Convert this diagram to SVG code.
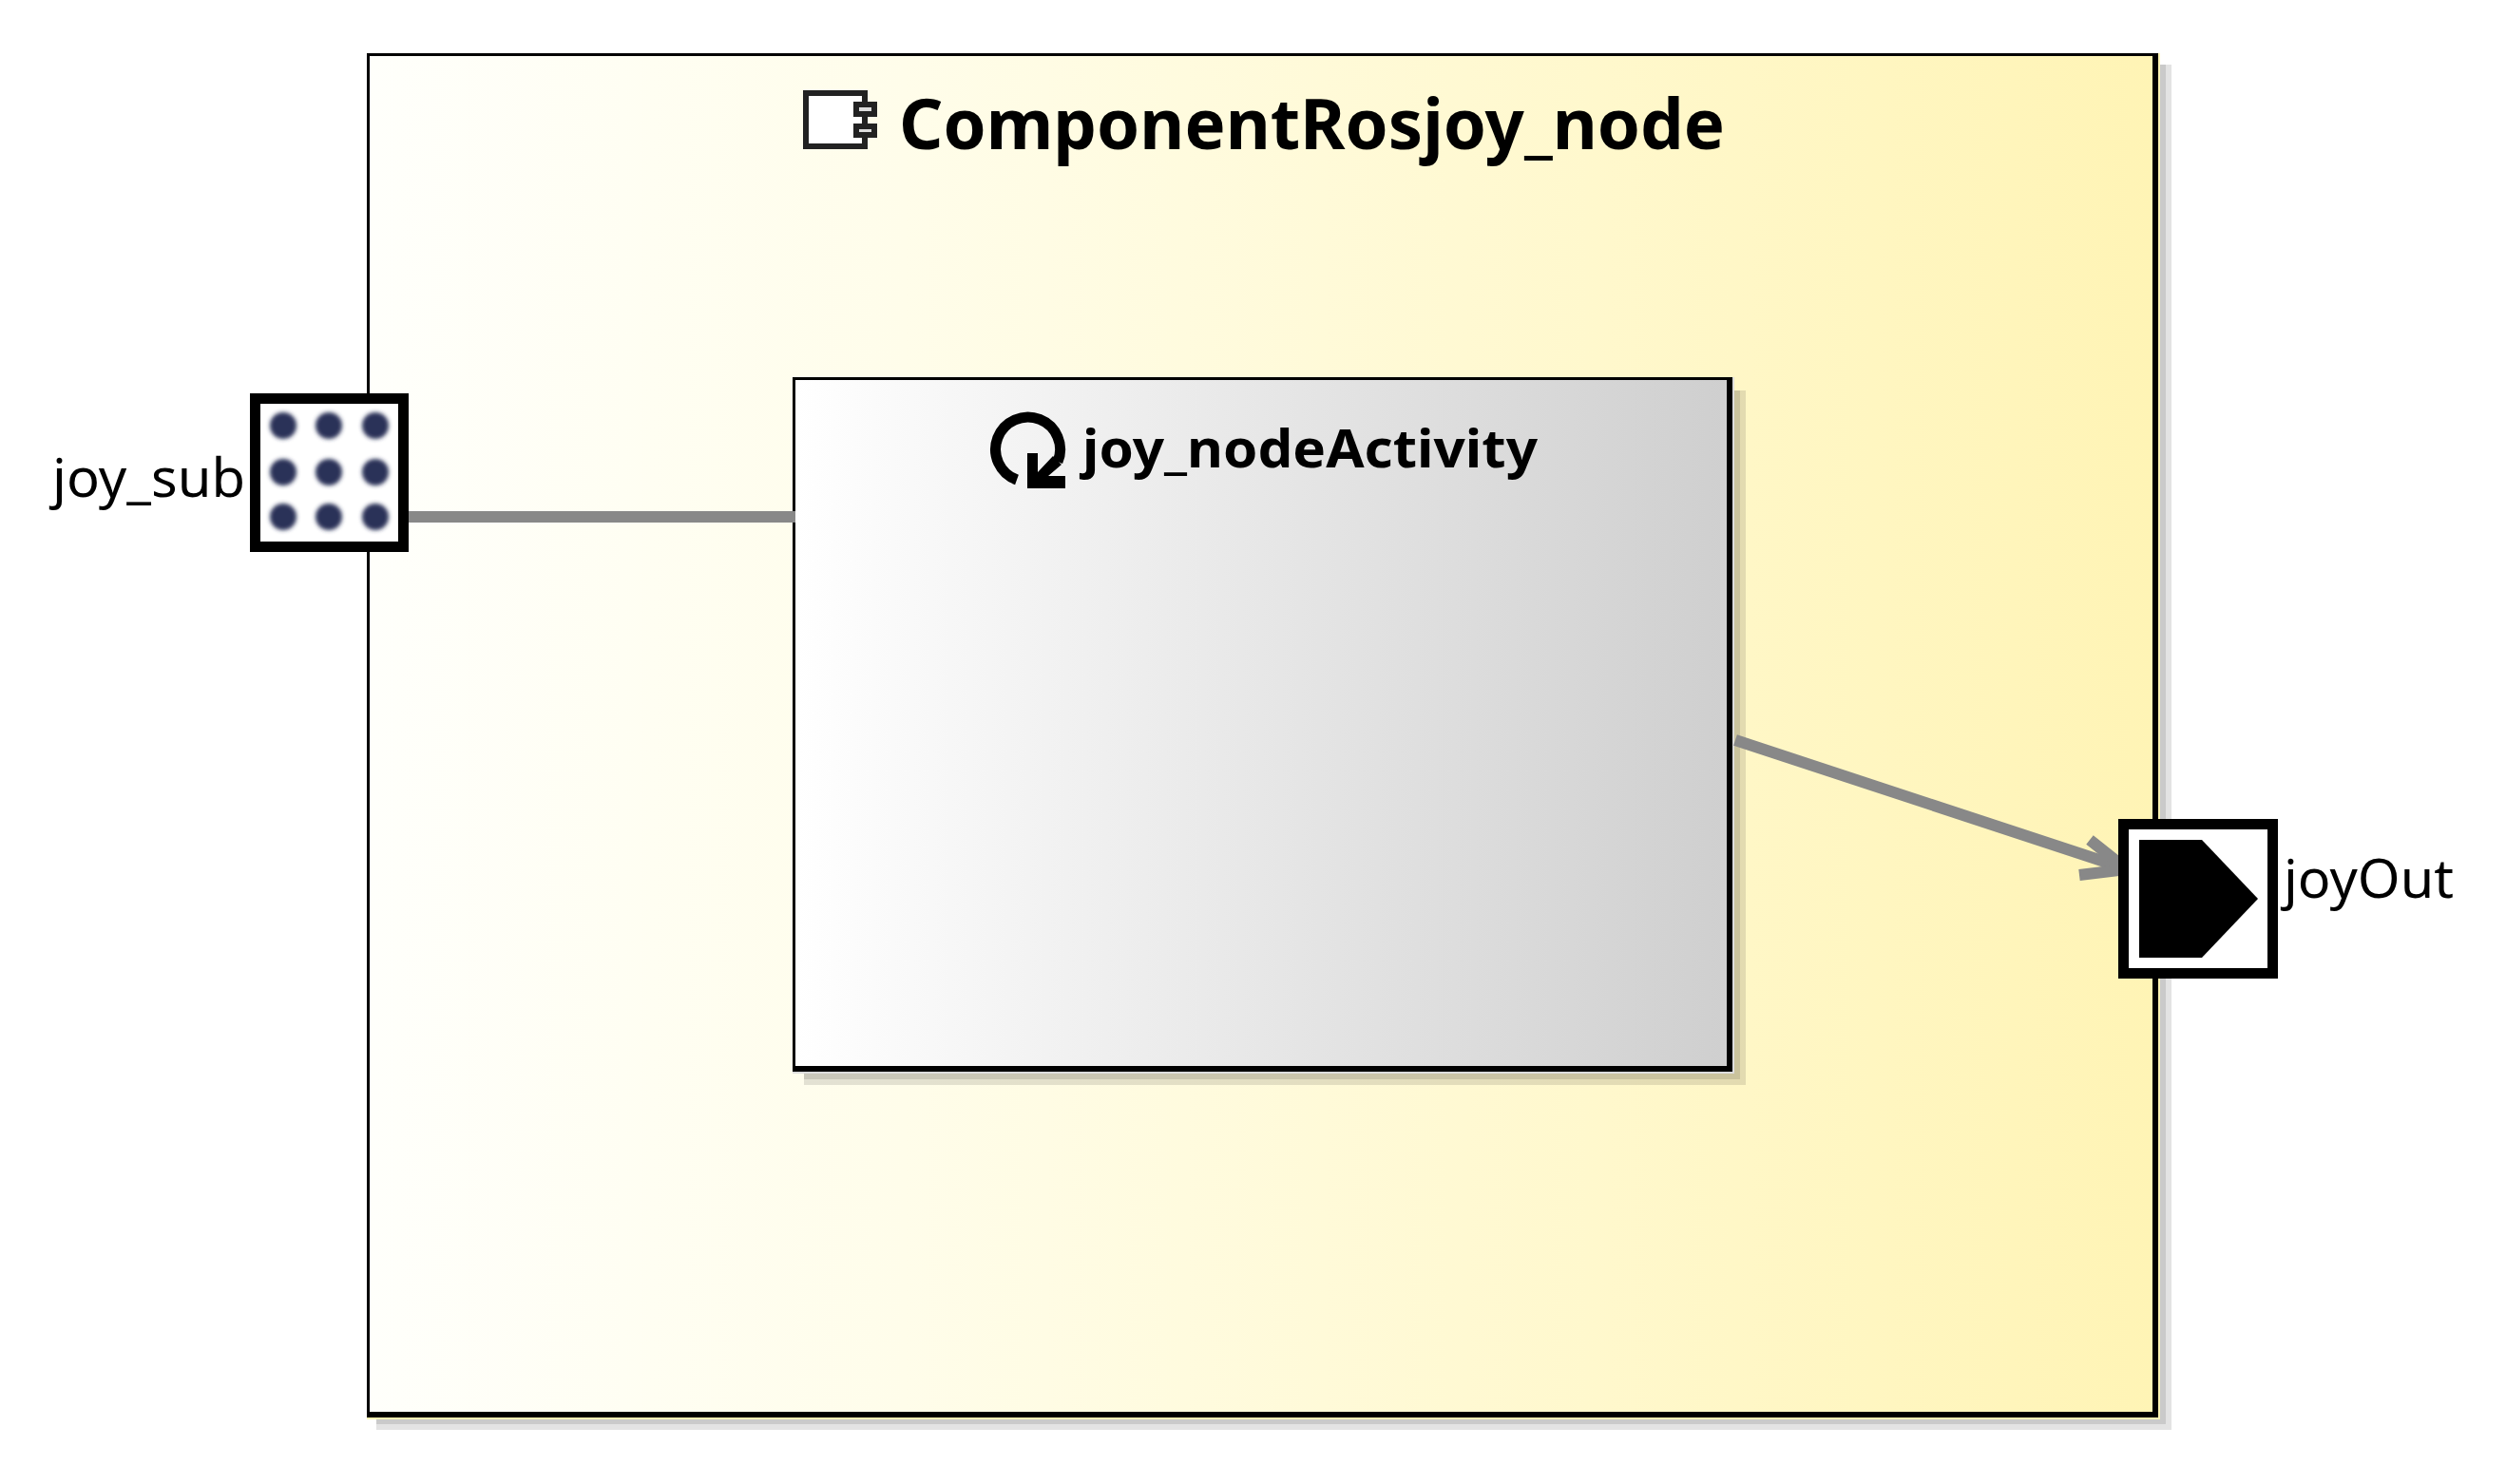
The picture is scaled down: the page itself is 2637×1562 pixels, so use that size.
<svg xmlns="http://www.w3.org/2000/svg" width="2637" height="1562" viewBox="0 0 2637 1562">
<style>
.t{font-family:"Noto Sans","Open Sans","DejaVu Sans",sans-serif;fill:#000}
.b{font-weight:700}
.sh{fill:#000;fill-opacity:.11}
.conn{fill:none;stroke:#888;stroke-width:12}
.dot{fill:#2a3358;filter:url(#soft)}
</style>
<defs>
<linearGradient id="yl" x1="0" x2="1" y1="0" y2="0"><stop offset="0" stop-color="#fffffb"/><stop offset=".3" stop-color="#fffdea"/><stop offset="1" stop-color="#fff4b5"/></linearGradient>
<linearGradient id="gy" x1="0" x2="1" y1="0" y2="0"><stop offset="0" stop-color="#fff"/><stop offset="1" stop-color="#cfcfcf"/></linearGradient>
<filter id="soft" x="-30%" y="-30%" width="160%" height="160%"><feGaussianBlur stdDeviation="2"/></filter>
</defs>
<rect width="2637" height="1562" fill="#fff"/>
<g id="ComponentRosjoy_node">
<rect class="sh" x="396" y="68" width="1889" height="1437"/>
<rect class="sh" x="396" y="68" width="1883" height="1431"/>
<rect x="386" y="56" width="1887" height="1438" fill="#fff4b5"/>
<rect x="386" y="56" width="1885" height="1436" fill="#000"/>
<rect x="389" y="59" width="1876" height="1427" fill="url(#yl)"/>
<g id="componentIcon">
<rect x="848" y="98" width="62" height="56" fill="#fff" stroke="#222" stroke-width="6"/>
<rect x="901" y="110" width="19" height="10" fill="#ddd" stroke="#222" stroke-width="6"/>
<rect x="901" y="133" width="19" height="9" fill="#ddd" stroke="#222" stroke-width="6"/>
</g>
<text class="t b" x="946" y="157" font-size="74" textLength="869" lengthAdjust="spacingAndGlyphs">ComponentRosjoy_node</text>
</g>
<g id="joy_nodeActivity">
<rect class="sh" x="846" y="411" width="991" height="731"/>
<rect class="sh" x="846" y="411" width="985" height="725"/>
<rect x="834" y="397" width="991" height="733" fill="#ddd"/>
<rect x="834" y="397" width="989" height="731" fill="#000"/>
<rect x="837" y="400" width="980" height="722" fill="url(#gy)"/>
<g id="activityIcon">
<path d="M1113 486A34 34 0 1 0 1070 505" fill="none" stroke="#000" stroke-width="11"/>
<path d="M1081 477H1092V497L1108 480L1117 489L1103 501H1121V514H1081Z" fill="#000"/>
</g>
<text class="t b" x="1139" y="492" font-size="56" textLength="479" lengthAdjust="spacingAndGlyphs">joy_nodeActivity</text>
</g>
<g id="connectors">
<line class="conn" x1="426" y1="544" x2="837" y2="544"/>
<line class="conn" x1="1826" y1="779" x2="2236" y2="914"/>
<path class="conn" d="M2199 884L2238 915L2188 921"/>
</g>
<g id="joy_sub">
<rect x="268.500" y="419.500" width="156" height="156" fill="#fff" stroke="#000" stroke-width="11"/>
<circle class="dot" cx="298" cy="448" r="14"/><circle class="dot" cx="346" cy="448" r="14"/><circle class="dot" cx="395" cy="448" r="14"/>
<circle class="dot" cx="298" cy="497" r="14"/><circle class="dot" cx="346" cy="497" r="14"/><circle class="dot" cx="395" cy="497" r="14"/>
<circle class="dot" cx="298" cy="544" r="14"/><circle class="dot" cx="346" cy="544" r="14"/><circle class="dot" cx="395" cy="544" r="14"/>
<text class="t" x="55" y="523" font-size="57" textLength="203" lengthAdjust="spacingAndGlyphs">joy_sub</text>
</g>
<g id="joyOut">
<rect x="2234.500" y="867.500" width="157" height="157" fill="#fff" stroke="#000" stroke-width="11"/>
<polygon points="2251,884 2317,884 2376,946 2317,1008 2251,1008" fill="#000"/>
<text class="t" x="2403" y="945" font-size="56" textLength="179" lengthAdjust="spacingAndGlyphs">joyOut</text>
</g>
</svg>
